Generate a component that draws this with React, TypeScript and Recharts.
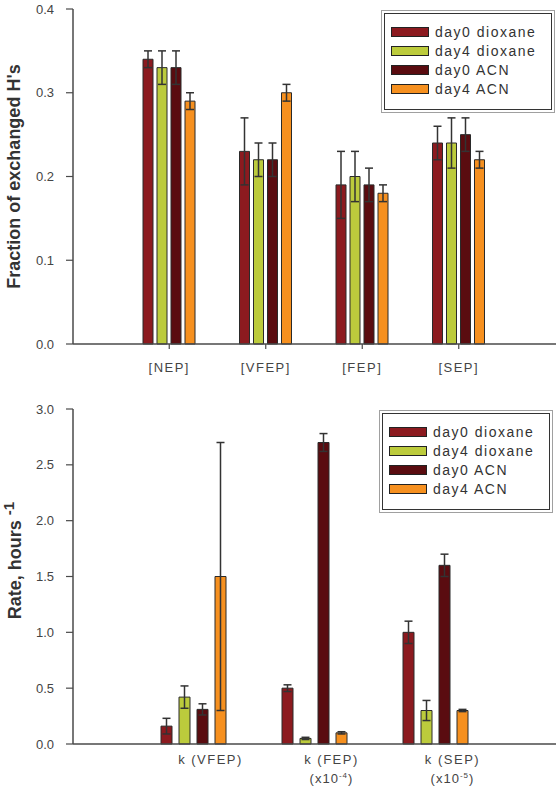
import React from 'react'
import { BarChart, Bar, XAxis, YAxis, ErrorBar, Legend } from 'recharts'

const seriesNames = ['day0 dioxane', 'day4 dioxane', 'day0 ACN', 'day4 ACN']
const seriesColors = ['#8c1a1f', '#bccb3c', '#5a0c10', '#f6901f']

// top panel: fraction of exchanged H's
const fractionCategories = ['[NEP]', '[VFEP]', '[FEP]', '[SEP]']
const fractionDay0Dioxane = [0.34, 0.23, 0.19, 0.24]
const fractionDay0DioxaneErr = [0.01, 0.04, 0.04, 0.02]
const fractionDay4Dioxane = [0.33, 0.22, 0.2, 0.24]
const fractionDay4DioxaneErr = [0.02, 0.02, 0.03, 0.03]
const fractionDay0Acn = [0.33, 0.22, 0.19, 0.25]
const fractionDay0AcnErr = [0.02, 0.02, 0.02, 0.02]
const fractionDay4Acn = [0.29, 0.3, 0.18, 0.22]
const fractionDay4AcnErr = [0.01, 0.01, 0.01, 0.01]
const fractionTicks = [0, 0.1, 0.2, 0.3, 0.4]

// bottom panel: rates
const rateCategories = ['k (VFEP)', 'k (FEP)', 'k (SEP)']
const rateExponents = ['', '-4', '-5']
const rateDay0Dioxane = [0.16, 0.5, 1.0]
const rateDay0DioxaneErr = [0.07, 0.03, 0.1]
const rateDay4Dioxane = [0.42, 0.05, 0.3]
const rateDay4DioxaneErr = [0.1, 0.01, 0.09]
const rateDay0Acn = [0.31, 2.7, 1.6]
const rateDay0AcnErr = [0.05, 0.08, 0.1]
const rateDay4Acn = [1.5, 0.1, 0.3]
const rateDay4AcnErr = [1.2, 0.01, 0.01]
const rateTicks = [0, 0.5, 1, 1.5, 2, 2.5, 3]

const fractionData = fractionCategories.map((name, i) => ({
  name,
  s0: fractionDay0Dioxane[i], e0: fractionDay0DioxaneErr[i],
  s1: fractionDay4Dioxane[i], e1: fractionDay4DioxaneErr[i],
  s2: fractionDay0Acn[i], e2: fractionDay0AcnErr[i],
  s3: fractionDay4Acn[i], e3: fractionDay4AcnErr[i],
}))

const rateData = rateCategories.map((name, i) => ({
  name,
  s0: rateDay0Dioxane[i], e0: rateDay0DioxaneErr[i],
  s1: rateDay4Dioxane[i], e1: rateDay4DioxaneErr[i],
  s2: rateDay0Acn[i], e2: rateDay0AcnErr[i],
  s3: rateDay4Acn[i], e3: rateDay4AcnErr[i],
}))

const FONT = '"Liberation Sans", Arial, sans-serif'
const AXIS = '#4a4a4a'

// legend keeps the series order (recharts sorts its payload by name)
function LegendBox() {
  return (
    <div
      style={{
        width: 168,
        height: 97,
        boxSizing: 'border-box',
        border: '1.5px solid #333',
        outline: '1.5px solid #a0a0a0',
        outlineOffset: 2,
        background: '#fff',
        padding: '8px 6px',
        fontFamily: FONT,
      }}
    >
      {seriesNames.map((name, i) => (
        <div key={name} style={{ display: 'flex', alignItems: 'center', height: 19 }}>
          <span
            style={{
              display: 'inline-block',
              width: 38,
              height: 10,
              boxSizing: 'border-box',
              background: seriesColors[i],
              border: '1.5px solid #222',
              marginRight: 6,
            }}
          />
          <span style={{ fontSize: 14, letterSpacing: 1.5, color: '#333' }}>{name}</span>
        </div>
      ))}
    </div>
  )
}

function FractionTitle({ viewBox }: any) {
  const cx = 14
  const cy = viewBox ? viewBox.y + viewBox.height / 2 : 177
  return (
    <text
      x={cx}
      y={cy}
      transform={`rotate(-90, ${cx}, ${cy})`}
      textAnchor="middle"
      dominantBaseline="central"
      fontSize={18}
      fontWeight="bold"
      fill="#333"
      fontFamily={FONT}
    >
      Fraction of exchanged H's
    </text>
  )
}

function RateTitle({ viewBox }: any) {
  const cx = 15
  const cy = (viewBox ? viewBox.y + viewBox.height / 2 : 196) - 16
  return (
    <text
      x={cx}
      y={cy}
      transform={`rotate(-90, ${cx}, ${cy})`}
      textAnchor="middle"
      dominantBaseline="central"
      fontSize={18}
      fontWeight="bold"
      fill="#333"
      fontFamily={FONT}
    >
      Rate, hours <tspan dy={-7} fontSize={15}>-1</tspan>
    </text>
  )
}

function FractionTick({ x, y, payload }: any) {
  return (
    <text x={x} y={y + 21} textAnchor="middle" fontSize={13} letterSpacing={1.5} fill="#444" fontFamily={FONT}>
      {payload.value}
    </text>
  )
}

function RateTick({ x, y, payload }: any) {
  const exp = rateExponents[rateCategories.indexOf(payload.value)]
  const cx = x + 17
  return (
    <g>
      <text x={cx} y={y + 20} textAnchor="middle" fontSize={13} letterSpacing={1.5} fill="#444" fontFamily={FONT}>
        {payload.value}
      </text>
      {exp && (
        <text x={cx} y={y + 39} textAnchor="middle" fontSize={13} letterSpacing={1} fill="#444" fontFamily={FONT}>
          (x10<tspan dy={-5} fontSize={8}>{exp}</tspan><tspan dy={5}>)</tspan>
        </text>
      )}
    </g>
  )
}

function bars(errWidth: number) {
  return seriesNames.map((name, i) => (
    <Bar
      key={name}
      dataKey={`s${i}`}
      name={name}
      fill={seriesColors[i]}
      stroke="#2a2a2a"
      strokeWidth={1}
      isAnimationActive={false}
    >
      <ErrorBar dataKey={`e${i}`} width={errWidth} stroke="#333" strokeWidth={1.5} isAnimationActive={false} />
    </Bar>
  ))
}

const yTickStyle = { fontSize: 13, fill: '#444', fontFamily: FONT }

export default function App() {
  return (
    <div style={{ position: 'absolute', left: 0, top: 0, width: 559, height: 789, background: '#fff' }}>
      <div style={{ position: 'absolute', left: 0, top: 0 }}>
        <BarChart
          width={559}
          height={380}
          data={fractionData}
          margin={{ top: 9, right: 3, left: 0, bottom: 0 }}
          barSize={10}
          barGap={4}
        >
          <XAxis
            dataKey="name"
            height={36}
            padding={{ left: 48, right: 49 }}
            tickSize={5}
            tick={<FractionTick />}
            axisLine={{ stroke: AXIS, strokeWidth: 1.5 }}
            tickLine={{ stroke: AXIS, strokeWidth: 1.2 }}
          />
          <XAxis xAxisId="frame" dataKey="name" orientation="top" height={0} tick={false} tickLine={false} axisLine={{ stroke: '#666', strokeWidth: 1.5 }} />
          <YAxis
            width={73}
            domain={[0, 0.4]}
            ticks={fractionTicks}
            tickFormatter={(v: number) => v.toFixed(1)}
            tickSize={7}
            tickMargin={12}
            tick={yTickStyle}
            axisLine={{ stroke: AXIS, strokeWidth: 1.5 }}
            tickLine={{ stroke: AXIS, strokeWidth: 1.2 }}
            label={<FractionTitle />}
          />
          <YAxis yAxisId="frame" orientation="right" width={0} domain={[0, 0.4]} tick={false} tickLine={false} axisLine={{ stroke: '#666', strokeWidth: 1.5 }} />
          {bars(4)}
          <Legend
            layout="vertical"
            align="center"
            verticalAlign="middle"
            wrapperStyle={{ left: 384, top: 13, width: 168 }}
            content={<LegendBox />}
          />
        </BarChart>
      </div>
      <div style={{ position: 'absolute', left: 0, top: 380 }}>
        <BarChart
          width={559}
          height={409}
          data={rateData}
          margin={{ top: 29, right: 3, left: 0, bottom: 0 }}
          barSize={11}
          barGap={7}
        >
          <XAxis
            dataKey="name"
            height={45}
            padding={{ left: 60, right: 60 }}
            tickSize={0}
            tickMargin={0}
            tickLine={false}
            tick={<RateTick />}
            axisLine={{ stroke: AXIS, strokeWidth: 1.5 }}
          />
          <XAxis xAxisId="frame" dataKey="name" orientation="top" height={0} tick={false} tickLine={false} axisLine={{ stroke: '#666', strokeWidth: 1.5 }} />
          <YAxis
            width={73}
            domain={[0, 3]}
            ticks={rateTicks}
            tickFormatter={(v: number) => v.toFixed(1)}
            tickSize={7}
            tickMargin={12}
            tick={yTickStyle}
            axisLine={{ stroke: AXIS, strokeWidth: 1.5 }}
            tickLine={{ stroke: AXIS, strokeWidth: 1.2 }}
            label={<RateTitle />}
          />
          <YAxis yAxisId="frame" orientation="right" width={0} domain={[0, 3]} tick={false} tickLine={false} axisLine={{ stroke: '#666', strokeWidth: 1.5 }} />
          {bars(4)}
          <Legend
            layout="vertical"
            align="center"
            verticalAlign="middle"
            wrapperStyle={{ left: 382, top: 33, width: 168 }}
            content={<LegendBox />}
          />
        </BarChart>
      </div>
    </div>
  )
}
